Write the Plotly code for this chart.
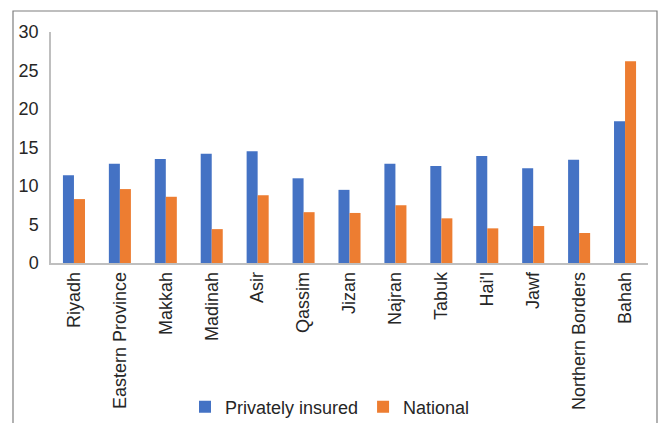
import plotly.graph_objects as go

regions = ["Riyadh", "Eastern Province", "Makkah", "Madinah", "Asir", "Qassim",
           "Jizan", "Najran", "Tabuk", "Hai'l", "Jawf", "Northern Borders", "Bahah"]
privately_insured = [11.4, 12.9, 13.5, 14.2, 14.5, 11.0, 9.5, 12.9, 12.6, 13.9, 12.3, 13.4, 18.4]
national = [8.3, 9.6, 8.6, 4.4, 8.8, 6.6, 6.5, 7.5, 5.8, 4.5, 4.8, 3.9, 26.2]
y_ticks = [0, 5, 10, 15, 20, 25, 30]

fig = go.Figure()
fig.add_trace(go.Bar(x=regions, y=privately_insured, name="Privately insured",
                     marker=dict(color="#4472C4", line=dict(width=0))))
fig.add_trace(go.Bar(x=regions, y=national, name="National",
                     marker=dict(color="#ED7D31", line=dict(width=0))))

L, R, T, B = 51, 11, 32, 160
W, H = 659, 423
pw = W - L - R
ph = H - T - B

fig.update_layout(
    width=W, height=H,
    margin=dict(l=L, r=R, t=T, b=B, pad=0, autoexpand=False),
    paper_bgcolor="white", plot_bgcolor="white",
    barmode="group", bargap=0.52, bargroupgap=0,
    font=dict(family="Liberation Sans, Arial, sans-serif", size=18, color="#262626"),
    showlegend=True,
    legend=dict(orientation="h", x=(330 - L) / pw, xanchor="center",
                y=(H - B - 407) / ph, yanchor="middle",
                font=dict(size=18, color="#262626"), itemwidth=30,
                bgcolor="rgba(0,0,0,0)", traceorder="normal"),
    xaxis=dict(tickangle=-90, showline=True, linecolor="#BFBFBF", linewidth=1.5,
               ticks="", showgrid=False, tickfont=dict(size=18), automargin=False,
               ticklabelstandoff=0),
    yaxis=dict(range=[0, 30], tickvals=y_ticks, showline=True, linecolor="#BFBFBF",
               linewidth=1.5, ticks="", showgrid=False, zeroline=False,
               tickfont=dict(size=18), ticklabelstandoff=7, automargin=False),
    shapes=[dict(type="rect", xref="paper", yref="paper",
                 x0=(13 - L) / pw, x1=(657 - L) / pw,
                 y0=(H - B - 440) / ph, y1=(H - B - 11) / ph,
                 line=dict(color="#7F7F7F", width=1.2), fillcolor="rgba(0,0,0,0)",
                 layer="below")],
)

fig.write_html("out.html")
